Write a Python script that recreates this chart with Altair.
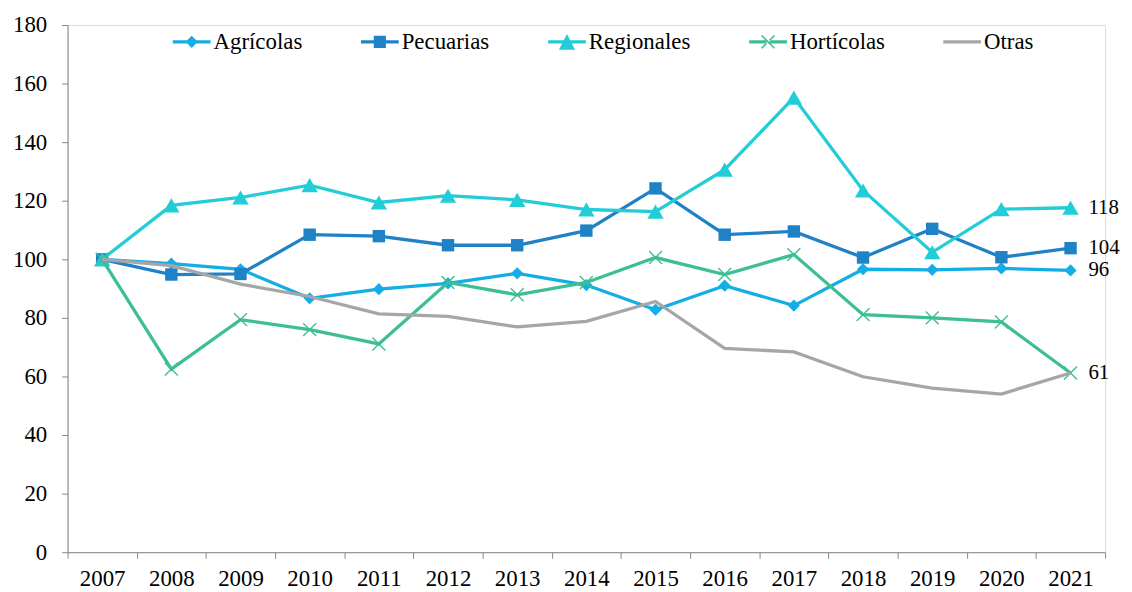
import altair as alt
import pandas as pd

years = list(range(2007, 2022))
series = ["Agrícolas", "Pecuarias", "Regionales", "Hortícolas", "Otras"]
colors = ["#14ADE5", "#1F82C7", "#22CDD7", "#3DBE95", "#A6A6A6"]

agricolas = [100, 98.5, 96.6, 86.7, 89.8, 91.8, 95.2, 91.2, 82.8, 91.0, 84.2, 96.6, 96.4, 96.9, 96.2]
pecuarias = [100, 94.8, 95.0, 108.4, 107.9, 104.8, 104.8, 109.8, 124.2, 108.4, 109.5, 100.6, 110.4, 100.7, 103.8]
regionales = [100, 118.4, 121.1, 125.3, 119.4, 121.7, 120.3, 117.0, 116.3, 130.6, 155.2, 123.5, 102.4, 117.1, 117.6]
horticolas = [100, 62.5, 79.4, 76.0, 71.1, 92.1, 87.9, 92.1, 100.6, 94.8, 101.6, 81.1, 80.0, 78.6, 61.2]
otras = [100, 97.8, 91.5, 87.3, 81.4, 80.5, 76.9, 78.8, 85.6, 69.6, 68.4, 59.9, 56.0, 54.0, 61.2]
end_labels = ["96", "104", "118", "61", ""]

y_ticks = list(range(0, 181, 20))

values = [agricolas, pecuarias, regionales, horticolas, otras]
rows = []
for s, vals, lab in zip(series, values, end_labels):
    for i, (yr, v) in enumerate(zip(years, vals)):
        rows.append({"serie": s, "year": yr, "value": v,
                     "label": lab if i == len(years) - 1 else ""})
df = pd.DataFrame(rows)

FONT = "Liberation Serif"
FS = 23

x_tick_values = [y - 0.5 for y in years] + [years[-1] + 0.5] + years
x_enc = alt.X(
    "year:Q",
    scale=alt.Scale(domain=[years[0] - 0.5, years[-1] + 0.5], nice=False, zero=False),
    axis=alt.Axis(
        values=x_tick_values,
        labelExpr="datum.value % 1 == 0 ? '' + datum.value : ''",
        tickOpacity={"condition": {"test": "datum.value % 1 == 0", "value": 0}, "value": 1},
        labelOverlap=False, labelFlush=False, tickSize=6, labelPadding=10,
        grid=False, title=None, domainColor="#868686", tickColor="#868686",
        labelFont=FONT, labelFontSize=FS, labelColor="black",
    ),
)
y_enc = alt.Y(
    "value:Q",
    scale=alt.Scale(domain=[0, 180], nice=False),
    axis=alt.Axis(
        values=y_ticks, tickSize=6, labelPadding=15, grid=False, title=None,
        domainColor="#868686", tickColor="#868686",
        labelFont=FONT, labelFontSize=FS, labelColor="black",
    ),
)

base = alt.Chart(df)
markers = {
    "Agrícolas": dict(shape="diamond", size=150, filled=True),
    "Pecuarias": dict(shape="square", size=156, filled=True),
    "Regionales": dict(shape="triangle-up", size=272, filled=True),
    "Hortícolas": dict(shape="M-1,-1L1,1M-1,1L1,-1", size=169, filled=False, strokeWidth=1.4),
}

layers = []
for s, c in zip(series, colors):
    sub = base.transform_filter(alt.datum.serie == s)
    layers.append(sub.mark_line(color=c, strokeWidth=3.3).encode(x=x_enc, y=y_enc))
    if s in markers:
        m = markers[s]
        layers.append(sub.mark_point(color=c, opacity=1, **m).encode(x=x_enc, y=y_enc))

# end labels
layers.append(
    base.transform_filter(alt.datum.label != "")
    .mark_text(align="left", baseline="middle", dx=18, font=FONT, fontSize=21, color="black")
    .encode(x=x_enc, y=y_enc, text="label:N")
)

# legend symbols (line + marker), drawn only in the legend
leg_paths = [
    "M-1,-0.087H1V0.087H-1Z M0,-0.32L0.32,0L0,0.32L-0.32,0Z",
    "M-1,-0.087H1V0.087H-1Z M-0.32,-0.32H0.32V0.32H-0.32Z",
    "M-1,-0.087H1V0.087H-1Z M0,-0.42L0.43,0.42H-0.43Z",
    "M-1,-0.087H1V0.087H-1Z M-0.31,-0.37L0.37,0.31L0.31,0.37L-0.37,-0.31Z M-0.31,0.37L0.37,-0.31L0.31,-0.37L-0.37,0.31Z",
    "M-1,-0.087H1V0.087H-1Z",
]
legend = alt.Legend(
    orient="none", legendX=106, legendY=-2, direction="horizontal", title=None,
    symbolSize=1444, symbolOpacity=1, symbolStrokeWidth=0,
    labelFont=FONT, labelFontSize=FS, labelColor="black", labelOffset=3,
    columnPadding=58.5, padding=0,
)
layers.append(
    base.mark_point(filled=True, opacity=0, strokeWidth=0).encode(
        x=x_enc, y=y_enc,
        fill=alt.Fill("serie:N", scale=alt.Scale(domain=series, range=colors), legend=legend),
        shape=alt.Shape("serie:N", scale=alt.Scale(domain=series, range=leg_paths), legend=legend),
    )
)

chart = alt.layer(*layers).properties(
    width=1045, height=531,
    autosize=alt.AutoSizeParams(type="none"),
    padding={"left": 60, "top": 15, "right": 19, "bottom": 40},
).configure_view(stroke=None).configure(background="white")

chart.save("out.html", embed_options={"renderer": "svg", "actions": False})
